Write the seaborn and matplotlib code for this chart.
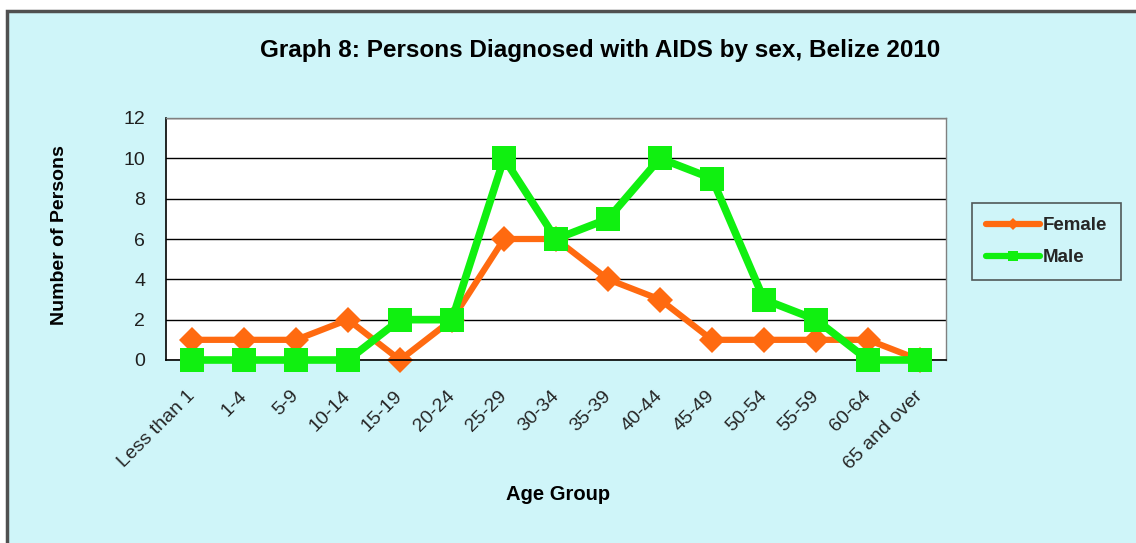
import matplotlib
matplotlib.use("Agg")
import matplotlib.pyplot as plt
from matplotlib.lines import Line2D
from matplotlib.patches import Rectangle
import pandas as pd
import seaborn as sns

age_groups = ["Less than 1", "1-4", "5-9", "10-14", "15-19", "20-24", "25-29",
              "30-34", "35-39", "40-44", "45-49", "50-54", "55-59", "60-64",
              "65 and over"]
female = [1, 1, 1, 2, 0, 2, 6, 6, 4, 3, 1, 1, 1, 1, 0]
male = [0, 0, 0, 0, 2, 2, 10, 6, 7, 10, 9, 3, 2, 0, 0]
y_ticks = [0, 2, 4, 6, 8, 10, 12]

ORANGE = "#FF6A10"
GREEN = "#10F010"
BG = "#CFF5F9"

df = pd.DataFrame({
    "Age Group": age_groups * 2,
    "Number of Persons": female + male,
    "Sex": ["Female"] * len(female) + ["Male"] * len(male),
})

sns.set_style("white")
plt.rcParams["font.family"] = ["Liberation Sans", "DejaVu Sans"]

fig = plt.figure(figsize=(11.36, 5.43), dpi=100, facecolor="white")
# chart area frame (Excel style)
fig.patches.append(Rectangle((7 / 1136, -0.1), 1.2, 1.1 - 11 / 543,
                             transform=fig.transFigure, facecolor=BG,
                             edgecolor="#505050", lw=2.5, zorder=-5))

ax = fig.add_axes([166 / 1136, 1 - 360 / 543, (946 - 166) / 1136, (360 - 118) / 543])
ax.set_facecolor("white")

sns.lineplot(data=df, x="Age Group", y="Number of Persons", hue="Sex",
             style="Sex", markers={"Female": "D", "Male": "s"}, dashes=False,
             palette={"Female": ORANGE, "Male": GREEN}, sort=False,
             legend=False, ax=ax, markeredgewidth=0)

for line, lw, ms in zip(ax.get_lines(), [4.5, 5.5], [13, 17]):
    line.set_linewidth(lw)
    line.set_markersize(ms)
    line.set_clip_on(False)
ax.get_lines()[1].set_zorder(3)

ax.set_xlim(-0.5, len(age_groups) - 0.5)
ax.set_ylim(0, 12)
ax.set_yticks(y_ticks)
ax.yaxis.grid(True, color="black", lw=1)
ax.set_axisbelow(True)

ax.set_xticks(range(len(age_groups)))
ax.set_xticklabels(age_groups, rotation=45, ha="right", va="center",
                   rotation_mode="anchor", fontsize=14)
ax.set_xticks([i - 0.5 for i in range(len(age_groups) + 1)], minor=True)
ax.tick_params(axis="x", which="major", length=0, pad=24)
ax.tick_params(axis="x", which="minor", length=5, width=1, color="black", direction="out")
ax.tick_params(axis="y", length=6, width=1, color="black", direction="out",
               labelsize=14, labelcolor="#202020", pad=9)

for side in ["left", "bottom"]:
    ax.spines[side].set_color("black")
    ax.spines[side].set_linewidth(1.2)
for side in ["top", "right"]:
    ax.spines[side].set_color("#808080")
    ax.spines[side].set_linewidth(1)

ax.set_xlabel("")
ax.set_ylabel("")
fig.text(60 / 1136, 1 - 235 / 543, "Number of Persons", rotation=90,
         ha="center", va="center", fontsize=14, fontweight="bold", color="black")
fig.text(558 / 1136, 1 - 495 / 543, "Age Group", ha="center", va="center",
         fontsize=14.5, fontweight="bold", color="black")
fig.text(600 / 1136, 1 - 50 / 543,
         "Graph 8: Persons Diagnosed with AIDS by sex, Belize 2010",
         ha="center", va="center", fontsize=17.5, fontweight="bold", color="black")

handles = [
    Line2D([], [], color=ORANGE, lw=4.5, marker="D", markersize=6, markeredgewidth=0),
    Line2D([], [], color=GREEN, lw=4.5, marker="s", markersize=7, markeredgewidth=0),
]
leg = fig.legend(handles, ["Female", "Male"], loc="upper left",
                 bbox_to_anchor=(972 / 1136, 1 - 203 / 543), frameon=True,
                 fancybox=False, handlelength=2.9, handletextpad=0.1,
                 labelspacing=0.8, borderpad=0.75, borderaxespad=0,
                 prop={"weight": "bold", "size": 13.5})
leg.get_frame().set_facecolor(BG)
leg.get_frame().set_edgecolor("#303030")
leg.get_frame().set_linewidth(1.2)

fig.savefig("out.png", dpi=100)
